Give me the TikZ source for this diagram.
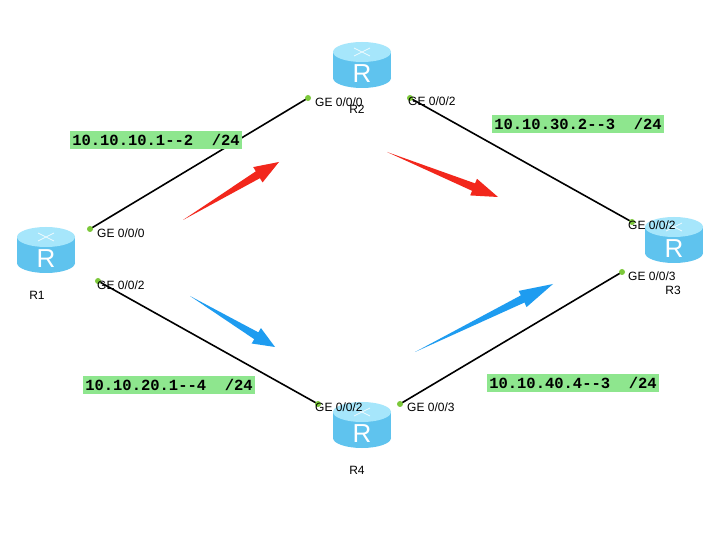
\documentclass[tikz,border=0pt]{standalone}
\usepackage{fontspec}
\setmainfont{Liberation Sans}
\newfontfamily\monof{Liberation Mono}
\usetikzlibrary{calc}
\definecolor{rtop}{HTML}{A6E6FB}
\definecolor{rside}{HTML}{5FC3EE}
\definecolor{lblg}{HTML}{8EE68E}
\definecolor{dotg}{HTML}{7CC83A}
\definecolor{ared}{HTML}{F2271C}
\definecolor{ablue}{HTML}{1E9CF0}
\tikzset{
 link/.style={line width=1.6pt,black},
 port/.style={circle,fill=dotg,inner sep=0pt,minimum size=6pt},
 ge/.style={anchor=west,font=\fontsize{12}{13}\selectfont,inner sep=0pt},
 ip/.style={fill=lblg,font=\monof\bfseries\fontsize{15.5}{16}\selectfont,inner sep=2pt,minimum height=18pt},
 rname/.style={font=\fontsize{12}{13}\selectfont},
 router/.pic={
   \fill[rside] (-29,-13) rectangle (29,13);
   \fill[rside] (0,13) ellipse[x radius=29,y radius=10];
   \fill[rtop] (0,-13) ellipse[x radius=29,y radius=10];
   \draw[white,line width=0.8pt,opacity=0.8] (-8,-17)--(8,-9) (-8,-9)--(8,-17);
   \node[white,font=\fontsize{26}{26}\selectfont] at (0,9) {R};
 }
}
\newcommand\taparrow[3]{%
 \fill[#1] (#2) -- ($(#2)!0.78!(#3)!4pt!90:(#3)$) -- ($(#2)!0.78!(#3)!9pt!90:(#3)$) -- (#3)
   -- ($(#2)!0.78!(#3)!9pt!-90:(#3)$) -- ($(#2)!0.78!(#3)!4pt!-90:(#3)$) -- cycle;}
\begin{document}
\begin{tikzpicture}[x=1pt,y=-1pt]
\useasboundingbox[fill=white] (0,0) rectangle (726,545);
\coordinate (p1a) at (90,229);
\coordinate (p1b) at (98,281);
\coordinate (p2a) at (308,98);
\coordinate (p2b) at (410,98);
\coordinate (p3a) at (632,222);
\coordinate (p3b) at (622,272);
\coordinate (p4a) at (318,404);
\coordinate (p4b) at (400,404);
\draw[link] (p1a) -- (p2a);
\draw[link] (p2b) -- (p3a);
\draw[link] (p1b) -- (p4a);
\draw[link] (p4b) -- (p3b);
\pic at (46,250) {router};
\pic at (362,65) {router};
\pic at (674,240) {router};
\pic at (362,425) {router};
\node[rname] (r1) at (37,295) {R1};
\node[rname] (r2) at (357,109) {R2};
\node[rname] (r3) at (673,290) {R3};
\node[rname] (r4) at (357,470) {R4};
\foreach \p in {p1a,p1b,p2a,p2b,p3a,p3b,p4a,p4b} \node[port] at (\p) {};
\node[ge] (g1) at (97,233) {GE 0/0/0};
\node[ge] (g2) at (97,285) {GE 0/0/2};
\node[ge] (g3) at (315,102) {GE 0/0/0};
\node[ge] (g4) at (408,101) {GE 0/0/2};
\node[ge] (g5) at (628,225) {GE 0/0/2};
\node[ge] (g6) at (628,276) {GE 0/0/3};
\node[ge] (g7) at (315,407) {GE 0/0/2};
\node[ge] (g8) at (407,407) {GE 0/0/3};
\node[ip] (i1) at (156,140) {10.10.10.1-{}-2~~/24};
\node[ip] (i2) at (578,124) {10.10.30.2-{}-3~~/24};
\node[ip] (i3) at (169,385) {10.10.20.1-{}-4~~/24};
\node[ip] (i4) at (573,383) {10.10.40.4-{}-3~~/24};
\coordinate (a1s) at (183,220); \coordinate (a1e) at (279,162);
\coordinate (a2s) at (387,152); \coordinate (a2e) at (498,197);
\coordinate (a3s) at (190,296); \coordinate (a3e) at (275,347);
\coordinate (a4s) at (415,352); \coordinate (a4e) at (553,284);
\taparrow{ared}{a1s}{a1e}
\taparrow{ared}{a2s}{a2e}
\taparrow{ablue}{a3s}{a3e}
\taparrow{ablue}{a4s}{a4e}
\end{tikzpicture}
\end{document}
